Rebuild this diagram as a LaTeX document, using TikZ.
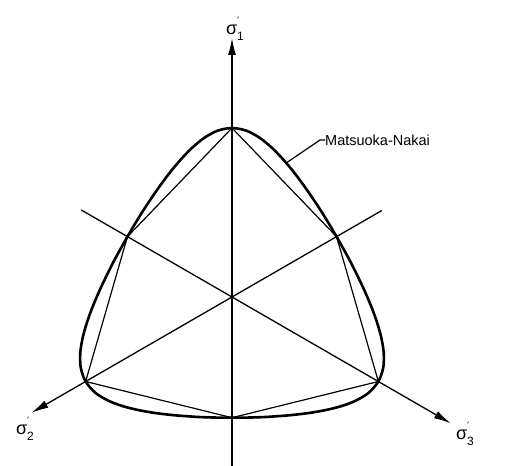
\documentclass[tikz,border=0pt]{standalone}
\usepackage{fontspec}
\setmainfont{Liberation Sans}
\newfontfamily\djfont{DejaVu Sans}
\usetikzlibrary{arrows.meta}
\newcommand\sigl[1]{{\fontsize{18}{18}\selectfont σ}\rlap{\raisebox{0.95em}{\fontsize{10}{10}\selectfont\djfont ′}}\raisebox{-0.62em}{\fontsize{12}{12}\selectfont #1}}
\tikzset{
  axisline/.style={line width=1.3pt,-{Latex[length=17pt,width=8pt]}},
  hexline/.style={line width=1.2pt,line join=round},
  mnline/.style={line width=2.6pt,line join=round},
  leader/.style={line width=1.2pt},
  lbl/.style={inner sep=0pt}
}
\begin{document}
\begin{tikzpicture}[x=1pt,y=1pt]
\useasboundingbox (0,0) rectangle (517,466);
\begin{scope}[shift={(232,169)}]
  \coordinate (C) at (0,0);
  % hexagon vertices
  \coordinate (top) at (90:169);
  \coordinate (ul) at (150:120.7);
  \coordinate (ll) at (210:169);
  \coordinate (bot) at (270:120.7);
  \coordinate (lr) at (330:169);
  \coordinate (ur) at (30:120.7);
  % axis ends
  \coordinate (s1a) at (0,-169);
  \coordinate (s1b) at (0,259);
  \coordinate (s2a) at (30:173);
  \coordinate (s2b) at (210:231.5);
  \coordinate (s3a) at (150:174);
  \coordinate (s3b) at (330:252.6);
  \coordinate (lead0) at (68:144.5);
  % axes
  \draw[axisline] (s1a) -- (s1b);
  \draw[axisline] (s2a) -- (s2b);
  \draw[axisline] (s3a) -- (s3b);
  % Mohr-Coulomb hexagon
  \draw[hexline] (top) -- (ur) -- (lr) -- (bot) -- (ll) -- (ul) -- cycle;
  % Matsuoka-Nakai curve
  \draw[mnline] plot[smooth cycle, tension=0.5] coordinates {
    (90:169.0) (95:166.9) (100:161.4) (105:154.4) (110:147.3) (115:140.9)
    (120:135.3) (125:130.7) (130:127.0) (135:124.3) (140:122.3) (145:121.1)
    (150:120.7) (155:121.1) (160:122.3) (165:124.3) (170:127.0) (175:130.7)
    (180:135.3) (185:140.9) (190:147.3) (195:154.4) (200:161.4) (205:166.9)
    (210:169.0) (215:166.9) (220:161.4) (225:154.4) (230:147.3) (235:140.9)
    (240:135.3) (245:130.7) (250:127.0) (255:124.3) (260:122.3) (265:121.1)
    (270:120.7) (275:121.1) (280:122.3) (285:124.3) (290:127.0) (295:130.7)
    (300:135.3) (305:140.9) (310:147.3) (315:154.4) (320:161.4) (325:166.9)
    (330:169.0) (335:166.9) (340:161.4) (345:154.4) (350:147.3) (355:140.9)
    (0:135.3) (5:130.7) (10:127.0) (15:124.3) (20:122.3) (25:121.1)
    (30:120.7) (35:121.1) (40:122.3) (45:124.3) (50:127.0) (55:130.7)
    (60:135.3) (65:140.9) (70:147.3) (75:154.4) (80:161.4) (85:166.9)
  };
\end{scope}
% labels
\node[lbl] (l1) at (235,437) {\sigl{1}};
\node[lbl] (l2) at (25,37) {\sigl{2}};
\node[lbl] (l3) at (465,32) {\sigl{3}};
\coordinate (lead1) at (320,326);
\node[lbl,anchor=west,font=\fontsize{14.5}{14.5}\selectfont] (mn) at (325,326) {Matsuoka-Nakai};
\draw[leader] (lead0) -- (lead1) -- (mn.west);
\end{tikzpicture}
\end{document}
